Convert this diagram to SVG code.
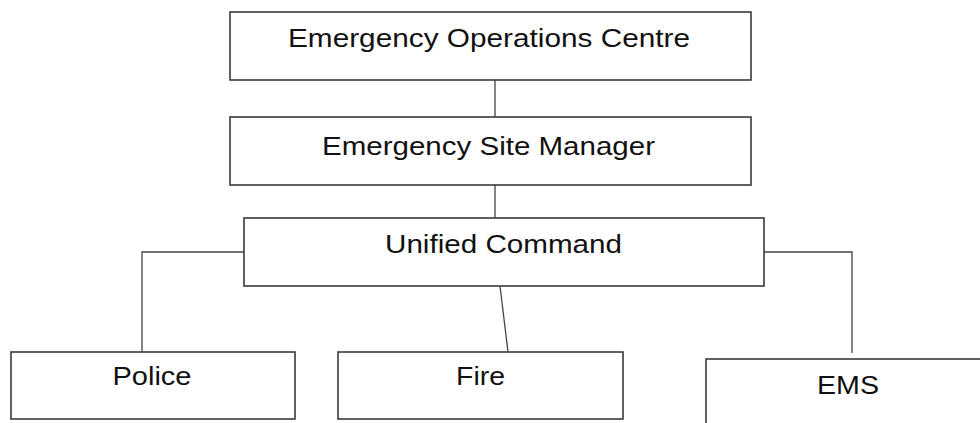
<svg xmlns="http://www.w3.org/2000/svg" width="980" height="423" viewBox="0 0 980 423">
<style>
.box{fill:#fff;stroke:#3a3a3a;stroke-width:1.6}
.lbl{font-family:"Liberation Sans",Arial,sans-serif;font-size:25px;fill:#111;text-anchor:middle}
.conn{fill:none;stroke:#444;stroke-width:1.3}
</style>
<rect width="980" height="423" fill="#fff"/>
<g id="connectors">
<line class="conn" x1="495" y1="80" x2="495" y2="117"/>
<line class="conn" x1="495" y1="185" x2="495" y2="218"/>
<polyline class="conn" points="244,252 142,252 142,352"/>
<line class="conn" x1="500" y1="286" x2="508" y2="352"/>
<polyline class="conn" points="764,252 852,252 852,353"/>
</g>
<g id="eoc">
<rect class="box" x="230" y="12" width="521" height="68"/>
<text class="lbl" x="489" y="47" textLength="402" lengthAdjust="spacingAndGlyphs">Emergency Operations Centre</text>
</g>
<g id="esm">
<rect class="box" x="230" y="117" width="521" height="68"/>
<text class="lbl" x="488.5" y="155" textLength="333" lengthAdjust="spacingAndGlyphs">Emergency Site Manager</text>
</g>
<g id="uc">
<rect class="box" x="244" y="218" width="520" height="68"/>
<text class="lbl" x="503.5" y="253" textLength="237" lengthAdjust="spacingAndGlyphs">Unified Command</text>
</g>
<g id="police">
<rect class="box" x="11" y="352" width="284" height="67"/>
<text class="lbl" x="152" y="385" textLength="79" lengthAdjust="spacingAndGlyphs">Police</text>
</g>
<g id="fire">
<rect class="box" x="338" y="352" width="285" height="67"/>
<text class="lbl" x="480.5" y="385" textLength="49" lengthAdjust="spacingAndGlyphs">Fire</text>
</g>
<g id="ems">
<rect class="box" x="706" y="359" width="300" height="80"/>
<text class="lbl" x="848" y="394" textLength="62" lengthAdjust="spacingAndGlyphs">EMS</text>
</g>
</svg>
